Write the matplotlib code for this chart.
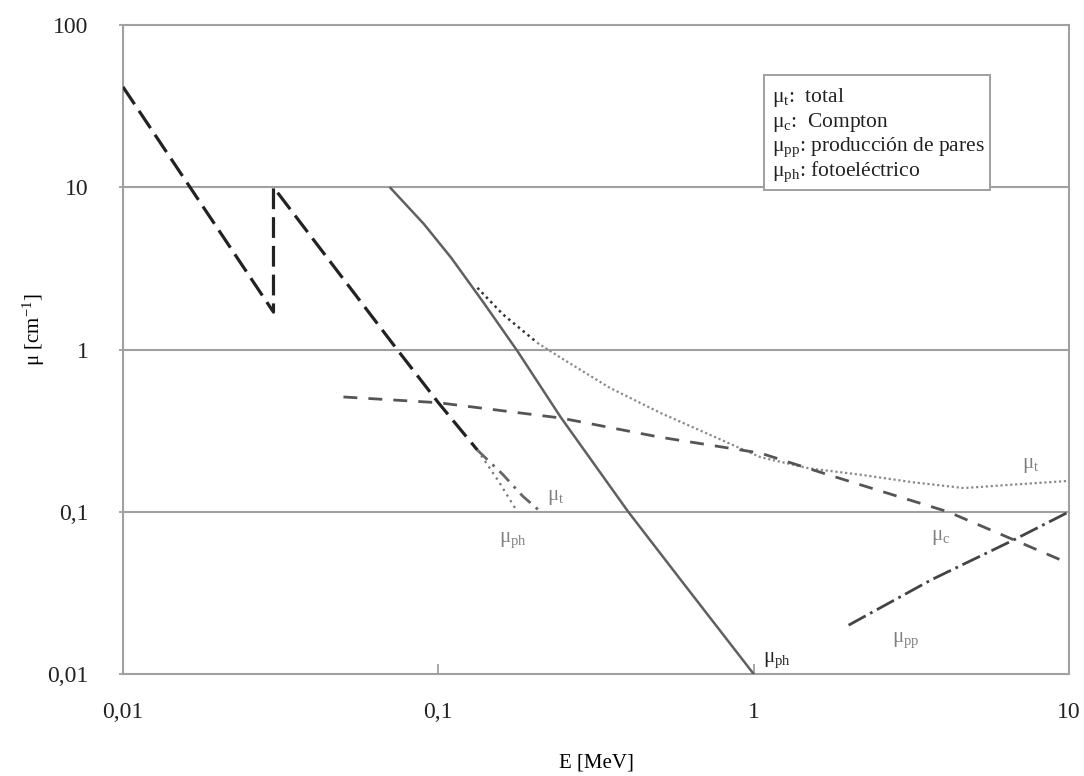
import numpy as np
import matplotlib.pyplot as plt
from matplotlib.patches import Rectangle
from matplotlib.ticker import FixedLocator, FixedFormatter, NullLocator

plt.rcParams['font.family'] = ['Liberation Serif', 'DejaVu Serif']
plt.rcParams['mathtext.fontset'] = 'custom'
plt.rcParams['mathtext.rm'] = 'Liberation Serif'
plt.rcParams['mathtext.it'] = 'Liberation Serif'
plt.rcParams['mathtext.bf'] = 'Liberation Serif:bold'

# photoelectric curve, high-Z absorber (with K edge)
E_ph_hi = [0.01, 0.03, 0.03, 0.074, 0.1, 0.133]
mu_ph_hi = [41.5, 1.7, 10.0, 1.0, 0.47, 0.24]
# tails below the split
E_t_hi = [0.133, 0.16, 0.185, 0.211]
mu_t_hi = [0.24, 0.17, 0.125, 0.1]
E_ph_hi_tail = [0.133, 0.155, 0.178]
mu_ph_hi_tail = [0.24, 0.155, 0.1]

# photoelectric curve, second absorber
E_ph = [0.0705, 0.09, 0.11, 0.14, 0.178, 0.244, 0.4, 0.6, 1.0]
mu_ph = [9.9, 5.93, 3.66, 1.91, 0.98, 0.384, 0.1, 0.036, 0.01]

# total attenuation
E_t = [0.133, 0.16, 0.206, 0.245, 0.35, 0.507, 0.75, 1.05, 1.5, 2.19, 3.2, 4.64, 7.0, 10.0]
mu_t = [2.4, 1.65, 1.1, 0.887, 0.58, 0.406, 0.29, 0.217, 0.185, 0.169, 0.152, 0.14, 0.148, 0.155]

# Compton
E_c = [0.05, 0.1, 0.245, 0.5, 1.05, 1.63, 2.5, 4.13, 6.7, 10.0]
mu_c = [0.51, 0.47, 0.378, 0.289, 0.23, 0.175, 0.135, 0.1, 0.067, 0.048]

# pair production
E_pp = [2.0, 3.65, 6.67, 10.0]
mu_pp = [0.02, 0.038, 0.067, 0.1]

x_ticks = [0.01, 0.1, 1, 10]
x_labels = ['0,01', '0,1', '1', '10']
y_ticks = [0.01, 0.1, 1, 10, 100]
y_labels = ['0,01', '0,1', '1', '10', '100']

legend_rows = [r'$\mu_{t}$:  total',
               r'$\mu_{c}$:  Compton',
               r'$\mu_{pp}$: producción de pares',
               r'$\mu_{ph}$: fotoeléctrico']

fig = plt.figure(figsize=(10.84, 7.76), dpi=100)
ax = fig.add_axes([0.1135, 0.1314, 0.8727, 0.8364])
ax.set_xscale('log')
ax.set_yscale('log')
ax.set_xlim(0.01, 10)
ax.set_ylim(0.01, 100)

grid_c = '#a0a0a0'
for y in y_ticks[1:-1]:
    ax.axhline(y, color=grid_c, lw=1.5, zorder=1)

ax.plot(E_ph_hi, mu_ph_hi, color='#222222', lw=2.3, dashes=(6.5, 2.5), zorder=3)
ax.plot(E_t_hi, mu_t_hi, color='#666666', lw=2.0, dashes=(5, 2.5, 1, 2.5), zorder=3)
ax.plot(E_ph_hi_tail, mu_ph_hi_tail, color='#777777', lw=1.6, ls=(0, (1, 2)), zorder=3)

ax.plot(E_ph, mu_ph, color='#606060', lw=1.8, zorder=3)
ax.plot(E_t[:3], mu_t[:3], color='#333333', lw=1.8, ls=(0, (1, 1.5)), zorder=3)
ax.plot(E_t[2:], mu_t[2:], color='#8a8a8a', lw=1.6, ls=(0, (1, 1.2)), zorder=3)
ax.plot(E_c, mu_c, color='#555555', lw=2.0, dashes=(5, 4), zorder=3)
ax.plot(E_pp, mu_pp, color='#444444', lw=2.0, dashes=(7, 1.8, 1, 1.8), zorder=3)

lbl = dict(fontsize=15, color='#808080', ha='center', va='center')
ax.text(0.235, 0.122, r'$\mu_{t}$', **lbl)
ax.text(0.172, 0.067, r'$\mu_{ph}$', **lbl)
ax.text(1.18, 0.0122, r'$\mu_{ph}$', fontsize=15, color='#222222', ha='center', va='center')
ax.text(3.04, 0.0162, r'$\mu_{pp}$', **lbl)
ax.text(3.92, 0.069, r'$\mu_{c}$', **lbl)
ax.text(7.57, 0.194, r'$\mu_{t}$', **lbl)

# legend box
x0, x1 = (764 - 123) / 946, (990 - 123) / 946
y1, y0 = (674 - 75) / 649, (674 - 190) / 649
ax.add_patch(Rectangle((x0, y0), x1 - x0, y1 - y0, transform=ax.transAxes,
                       fc='white', ec=grid_c, lw=1.4, zorder=4))
for i, row in enumerate(legend_rows):
    ax.text((772 - 123) / 946, (674 - 98 - 24.7 * i) / 649, row,
            transform=ax.transAxes, fontsize=15.5, va='center', color='#222222',
            zorder=5)

ax.xaxis.set_major_locator(FixedLocator(x_ticks))
ax.xaxis.set_major_formatter(FixedFormatter(x_labels))
ax.xaxis.set_minor_locator(NullLocator())
ax.yaxis.set_major_locator(FixedLocator(y_ticks))
ax.yaxis.set_major_formatter(FixedFormatter(y_labels))
ax.yaxis.set_minor_locator(NullLocator())
ax.tick_params(axis='x', direction='in', length=7, width=1.3, color=grid_c,
               labelsize=17, labelcolor='#222222', pad=20)
ax.tick_params(axis='y', direction='out', length=3, width=1.3, color=grid_c,
               labelsize=17, labelcolor='#222222', pad=22)

for s in ax.spines.values():
    s.set_color(grid_c)
    s.set_linewidth(1.5)

ax.set_xlabel('E [MeV]', fontsize=15, labelpad=22)
ax.set_ylabel(r'$\mu$ [cm$^{-1}$]', fontsize=15)
ax.yaxis.set_label_coords(-0.08, 0.53)

fig.savefig('out.png', dpi=100)
